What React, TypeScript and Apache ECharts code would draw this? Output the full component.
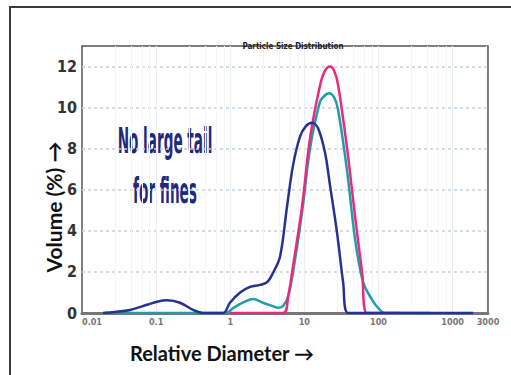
import React, { useEffect, useRef } from "react";
import * as echarts from "echarts";

// Particle size distributions: relative diameter (log scale) vs volume %
const navyDiameter = [0.0192, 0.0279, 0.0444, 0.0754, 0.103, 0.14, 0.21, 0.315, 0.43, 0.8, 0.99, 1.36, 1.85, 2.52, 3.14, 3.78, 4.7, 5.84, 7.04, 8.75, 10.5, 12.7, 15.3, 19.0, 22.2, 27.6, 33.3, 38.9, 100, 1890];
const navyVolume = [0, 0.05, 0.15, 0.4, 0.55, 0.62, 0.5, 0.15, 0, 0, 0.5, 1.0, 1.27, 1.37, 1.5, 1.96, 2.75, 5.2, 7.2, 8.6, 9.1, 9.26, 9.0, 7.8, 6.2, 3.9, 1.5, 0, 0, 0];

const pinkDiameter = [0.99, 5.17, 6.03, 7.04, 9.31, 11.9, 16.3, 19.0, 22.2, 25.2, 28.5, 37.7, 48.3, 60.1, 70.2, 200];
const pinkVolume = [0, 0, 0.8, 2.3, 5.2, 8.5, 11.1, 11.8, 12.0, 11.8, 11.1, 8.0, 4.7, 1.96, 0, 0];

const tealDiameter = [0.0204, 0.851, 1.16, 1.58, 2.02, 2.77, 3.66, 4.41, 5.17, 6.03, 7.04, 9.31, 11.9, 16.3, 19.0, 21.5, 25.2, 28.5, 37.7, 48.3, 62.0, 82.0, 98.8, 123, 500];
const tealVolume = [0, 0, 0.3, 0.55, 0.68, 0.5, 0.35, 0.25, 0.35, 0.8, 2.0, 4.9, 8.0, 10.3, 10.6, 10.7, 10.5, 9.9, 6.9, 3.6, 1.5, 0.64, 0.25, 0, 0];

const yTicks = { min: 0, max: 13, interval: 2 };
const xRange = { min: 0.01, max: 3000 };

const toPairs = (xs: number[], ys: number[]) => xs.map((x, i) => [x, ys[i]]);

const condensed = "Liberation Sans Narrow, DejaVu Sans Condensed, sans-serif";

export default function App() {
  const ref = useRef<HTMLDivElement>(null);

  useEffect(() => {
    if (!ref.current) return;
    const chart = echarts.init(ref.current, null, { renderer: "svg" });
    const lineBase = { type: "line" as const, smooth: 0.35, symbol: "none", silent: true };
    chart.setOption({
      animation: false,
      backgroundColor: "#ffffff",
      title: {
        text: "Particle Size Distribution",
        left: 288,
        top: 37,
        textAlign: "center",
        textStyle: { fontSize: 8, fontWeight: "bold", color: "#222", fontFamily: condensed },
      },
      grid: {
        left: 82,
        top: 46,
        right: 23,
        bottom: 62,
        show: true,
        borderColor: "#555",
        borderWidth: 1.5,
        backgroundColor: "transparent",
      },
      xAxis: {
        type: "log",
        logBase: 10,
        min: xRange.min,
        max: xRange.max,
        axisLine: { show: true, onZero: false, lineStyle: { color: "#777", width: 3 } },
        axisTick: { show: false },
        axisLabel: {
          color: "#777",
          fontSize: 9,
          fontWeight: "bold",
          margin: 4,
          fontFamily: condensed,
          showMaxLabel: true,
          alignMinLabel: "left",
          formatter: (v: number) => String(+v.toPrecision(6)),
        },
        splitLine: { show: true, showMinLine: false, showMaxLine: false, lineStyle: { color: "#eceef5", width: 1 } },
        minorTick: { show: false, splitNumber: 5 },
        minorSplitLine: { show: true, lineStyle: { color: "#f5f6fa", width: 1 } },
      },
      yAxis: {
        type: "value",
        min: yTicks.min,
        max: yTicks.max,
        interval: yTicks.interval,
        axisLine: { show: false },
        axisTick: { show: false },
        axisLabel: {
          color: "#333",
          fontSize: 16,
          fontWeight: "bold",
          margin: 5,
          showMaxLabel: false,
          fontFamily: condensed,
        },
        splitLine: {
          show: true,
          showMinLine: false,
          showMaxLine: false,
          lineStyle: { color: "#c9cee2", width: 1.5, type: [3, 3] },
        },
      },
      series: [
        { ...lineBase, name: "teal", data: toPairs(tealDiameter, tealVolume), lineStyle: { color: "#1f9ea6", width: 2.5 }, z: 3 },
        { ...lineBase, name: "pink", data: toPairs(pinkDiameter, pinkVolume), lineStyle: { color: "#ea2a7f", width: 2.5 }, z: 4 },
        { ...lineBase, name: "navy", data: toPairs(navyDiameter, navyVolume), lineStyle: { color: "#26328f", width: 2.5 }, z: 5 },
      ],
      graphic: [
        {
          type: "rect",
          shape: { x: 10, y: 7, width: 540, height: 420 },
          style: { fill: "none", stroke: "#3a3a3a", lineWidth: 2 },
          silent: true,
        },
        {
          type: "text",
          x: 53,
          y: 207,
          rotation: Math.PI / 2,
          style: {
            text: "Volume (%) →",
            fontSize: 21,
            fontWeight: "bold",
            fontFamily: "Lato, sans-serif",
            fill: "#111",
            align: "center",
            verticalAlign: "middle",
          },
        },
        {
          type: "text",
          x: 222,
          y: 353,
          style: {
            text: "Relative Diameter →",
            fontSize: 20,
            fontWeight: "bold",
            fontFamily: "Lato, sans-serif",
            fill: "#111",
            align: "center",
            verticalAlign: "middle",
          },
        },
        {
          type: "text",
          x: 165,
          y: 141,
          scaleX: 0.42,
          style: {
            text: "No large tail",
            fontSize: 36,
            fontWeight: "bold",
            fontFamily: condensed,
            fill: "#1f2a7e",
            align: "center",
            verticalAlign: "middle",
          },
        },
        {
          type: "text",
          x: 165,
          y: 191,
          scaleX: 0.42,
          style: {
            text: "for fines",
            fontSize: 36,
            fontWeight: "bold",
            fontFamily: condensed,
            fill: "#1f2a7e",
            align: "center",
            verticalAlign: "middle",
          },
        },
      ],
    });
    return () => chart.dispose();
  }, []);

  return (
    <div
      ref={ref}
      style={{ position: "absolute", left: 0, top: 0, width: 511, height: 375, background: "#fff" }}
    />
  );
}
